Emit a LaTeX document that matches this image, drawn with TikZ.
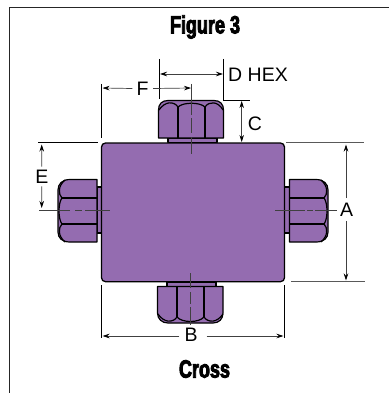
\documentclass[tikz,border=0pt]{standalone}
\usepackage{fontspec}
\setmainfont{Liberation Sans}
\newfontfamily\headfont[FakeStretch=0.72,FakeBold=3.5]{Liberation Sans Bold}
\usetikzlibrary{arrows.meta}
\definecolor{cpurple}{HTML}{946CB0}
\tikzset{x=1pt,y=-1pt,
 partline/.style={draw=black,line width=1.2pt,fill=cpurple,line join=round},
 dim/.style={draw=black!75,line width=0.7pt,{Stealth[length=7pt,width=4.5pt,black]}-{Stealth[length=7pt,width=4.5pt,black]}},
 dimr/.style={draw=black!75,line width=0.7pt,-{Stealth[length=7pt,width=4.5pt,black]}},
 ext/.style={draw=black,line width=0.7pt},
 cline/.style={draw=black!75,line width=0.8pt},
 lab/.style={font=\fontsize{19.5}{19.5}\selectfont,inner sep=0pt,text=black},
 head/.style={font=\fontsize{25}{25}\selectfont\headfont,inner sep=0pt}}
\begin{document}
\begin{tikzpicture}
\useasboundingbox (0,0) rectangle (389,393);
\fill[white] (0,0) rectangle (389,393);
% frame
\draw[draw=black!85,line width=1.2pt] (9.5,393) -- (9.5,7.5) -- (389,7.5);
\node[head] (title) at (205,27) {Figure 3};
\node[head] (cap) at (204.5,369) {Cross};
% top nut
\draw[partline] (168,138) rectangle (217,142.5);
\draw[partline] (158.5,138) -- (158.5,110) .. controls (158.5,104) and (162,100.5) .. (168,100.5) -- (214,100.5) .. controls (220,100.5) and (223.5,104) .. (223.5,110) -- (223.5,138) -- cycle;
\draw[partline,fill=none] (178,138) -- (178,107) (205,138) -- (205,107);
\draw[partline,fill=none] (159,110) .. controls (165,101) and (174,101) .. (178,107) .. controls (183,102) and (200,102) .. (205,107) .. controls (209,101) and (218,101) .. (223,110);
% bottom nut
\draw[partline] (167,282) rectangle (216,286.5);
\draw[partline] (157.5,286.5) -- (157.5,313) .. controls (157.5,319) and (162,323) .. (168,323) -- (213,323) .. controls (219,323) and (223,319) .. (223,313) -- (223,286.5) -- cycle;
\draw[partline,fill=none] (177,286.5) -- (177,317) (204,286.5) -- (204,317);
\draw[partline,fill=none] (158,314) .. controls (164,323) and (173,323) .. (177,317) .. controls (182,323) and (199,323) .. (204,317) .. controls (208,323) and (217,323) .. (223,314);
% left nut
\draw[partline] (97,187) rectangle (102,233);
\draw[partline] (97,179.5) -- (70,179.5) .. controls (62,179.5) and (58,184) .. (58,190) -- (58,232) .. controls (58,238) and (62,242) .. (70,242) -- (97,242) -- cycle;
\draw[partline,fill=none] (97,198) -- (62,198) (97,224) -- (62,224);
\draw[partline,fill=none] (65,180) .. controls (58,186) and (58,194) .. (62,198) .. controls (58,203) and (58,219) .. (62,224) .. controls (58,228) and (58,236) .. (65,242);
% right nut
\draw[partline] (284.5,187) rectangle (289.5,233);
\draw[partline] (289.5,179.5) -- (316,179.5) .. controls (324,179.5) and (328,184) .. (328,190) -- (328,232) .. controls (328,238) and (324,242) .. (316,242) -- (289.5,242) -- cycle;
\draw[partline,fill=none] (289.5,198) -- (324,198) (289.5,224) -- (324,224);
\draw[partline,fill=none] (321,180) .. controls (328,186) and (328,194) .. (324,198) .. controls (328,203) and (328,219) .. (324,224) .. controls (328,228) and (328,236) .. (321,242);
% body
\draw[partline,rounded corners=4pt,line width=1.3pt] (101.5,143) rectangle (284.5,281.7);
% centre lines
\draw[cline] (191.7,84) -- (191.7,115) (191.7,118) -- (191.7,133) (191.7,137) -- (191.7,154);
\draw[cline] (190.7,273) -- (190.7,288) (190.7,292) -- (190.7,304) (190.7,307) -- (190.7,325);
\draw[cline] (39,210) -- (70,210) (75,210) -- (82,210) (85,210) -- (110,210);
\draw[cline] (275,210) -- (305,210) (307,210) -- (313,210) (315,210) -- (337,210);
% extension lines
\draw[ext] (101.6,84) -- (101.6,138);
\draw[ext] (159.3,59) -- (159.3,99);
\draw[ext] (223.3,59) -- (223.3,100) -- (250,100);
\draw[ext] (38,142.5) -- (98,142.5);
\draw[ext,draw=black!65] (286,142.5) -- (364,142.5);
\draw[ext,draw=black!65] (291,281.5) -- (365,281.5);
\draw[ext] (101.6,285) -- (101.6,338);
\draw[ext] (284.3,285) -- (284.3,338);
% labels
\node[lab] (F) at (142.5,88.5) {F};
\node[lab,anchor=west] (D) at (228,75) {D HEX};
\node[lab] (C) at (255,124) {C};
\node[lab] (E) at (41.8,176.5) {E};
\node[lab] (A) at (346.5,210) {A};
\node[lab] (B) at (191,335) {B};
% dimensions
\coordinate (Fl) at (102.5,88); \coordinate (Fr) at (191,88);
\coordinate (Dl) at (160,74); \coordinate (Dr) at (223,74);
\coordinate (Ct) at (241.7,101); \coordinate (Cb) at (241.7,142);
\coordinate (Et) at (41.7,144.5); \coordinate (Eb) at (41.7,208);
\coordinate (At) at (346,144.5); \coordinate (Ab) at (346,280.5);
\coordinate (Bl) at (102.5,336); \coordinate (Br) at (283.5,336);
\draw[dimr] (F.west) ++(-4,0) -- (Fl);
\draw[dimr] (F.east) ++(4.5,0) -- (Fr);
\draw[dim] (Dl) -- (Dr);
\draw[dim] (Ct) -- (Cb);
\draw[dimr] (E.north) ++(0,-3) -- (Et);
\draw[dimr] (E.south) ++(0,3) -- (Eb);
\draw[dimr] (A.north) ++(-0.5,-5) -- (At);
\draw[dimr] (A.south) ++(-0.5,4) -- (Ab);
\draw[dimr] (B.west) ++(-5,1) -- (Bl);
\draw[dimr] (B.east) ++(9,1) -- (Br);
\end{tikzpicture}
\end{document}
